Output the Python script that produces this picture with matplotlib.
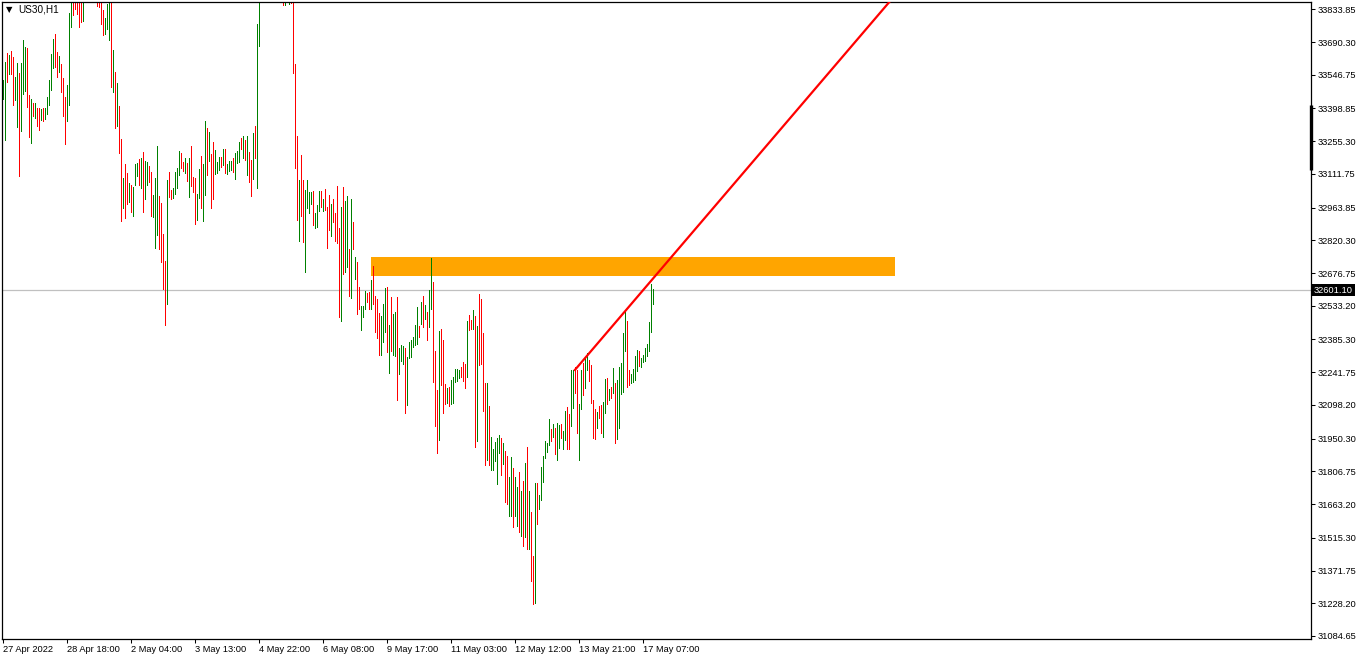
import matplotlib
matplotlib.use("Agg")
import matplotlib.pyplot as plt
import matplotlib.transforms as mtransforms
from matplotlib.patches import Rectangle

plt.rcParams['font.family'] = ['Liberation Sans', 'DejaVu Sans']

# ---------------- data ----------------
symbol_title = "US30,H1"

highs = [
    33524, 33603, 33642, 33633, 33651, 33625, 33537, 33598, 33554, 33598,
    33699, 33668, 33664, 33458, 33440, 33423, 33423, 33401, 33401, 33396,
    33401, 33401, 33449, 33524, 33638, 33703, 33725, 33646, 33629, 33594,
    33532, 33449, 33502, 33818, 33910, 33895, 33905, 33900, 33915, 33890,
    33900, 33990, 34030, 34050, 34020, 33990, 33960, 33930, 33925, 33920,
    33831, 33796, 33857, 33890, 33880, 33655, 33559, 33510, 33410, 33265,
    33094, 33155, 33116, 33072, 33063, 33054, 33155, 33160, 33177, 33181,
    33208, 33168, 33164, 33146, 33120, 33019, 33094, 33234, 33015, 32984,
    32848, 32730, 33085, 33120, 33041, 33050, 33120, 33138, 33212, 33203,
    33164, 33181, 33160, 33181, 33234, 33098, 33094, 33023, 33133, 33190,
    33155, 33344, 33313, 33295, 33199, 33252, 33217, 33164, 33186, 33186,
    33221, 33221, 33155, 33168, 33168, 33181, 33203, 33212, 33252, 33269,
    33278, 33260, 33278, 33208, 33173, 33291, 33322, 33769, 33900, 33980,
    34020, 34060, 34080, 34050, 34070, 34040, 34010, 33990, 33970, 33950,
    33930, 33920, 33950, 33915, 33900, 33905, 33594, 33278, 33085, 33195,
    33085, 33041, 33085, 33032, 33032, 33037, 32940, 32975, 33037, 33037,
    33002, 33045, 32966, 33019, 32980, 33002, 32940, 33059, 32874, 32966,
    33054, 32993, 33015, 32782, 33002, 32901, 32747, 32725, 32616, 32532,
    32532, 32598, 32589, 32594, 32646, 32708, 32576, 32563, 32501, 32488,
    32541, 32611, 32616, 32449, 32572, 32497, 32506, 32572, 32348, 32361,
    32357, 32348, 32308, 32374, 32383, 32396, 32449, 32528, 32444, 32550,
    32576, 32537, 32506, 32602, 32743, 32637, 32335, 32164, 32422, 32431,
    32383, 32190, 32172, 32177, 32208, 32221, 32256, 32256, 32251, 32265,
    32286, 32278, 32466, 32493, 32471, 32515, 32488, 32444, 32585, 32563,
    32414, 32194, 32194, 32093, 31957, 31905, 31935, 31953, 31966, 31953,
    31931, 31896, 31874, 31782, 31870, 31821, 31782, 31738, 31804, 31721,
    31764, 31843, 31914, 31721, 31628, 31435, 31756, 31756, 31703, 31826,
    31874, 31940, 31931, 32036, 31993, 32014, 31997, 32019, 32010, 32014,
    31984, 32072, 32089, 32058, 32251, 32251, 32265, 32251, 32102, 32251,
    32282, 32304, 32326, 32295, 32273, 32120, 32080, 32067, 32093, 32098,
    32111, 32212, 32216, 32168, 32177, 32260, 32194, 32208, 32265, 32282,
    32414, 32506, 32466, 32251, 32234, 32256, 32313, 32339, 32335, 32304,
    32317, 32348, 32365, 32462, 32629, 32607,
]

lows = [
    33440, 33260, 33515, 33550, 33550, 33414, 33436, 33318, 33103, 33300,
    33462, 33475, 33405, 33274, 33247, 33366, 33357, 33322, 33304, 33348,
    33344, 33352, 33374, 33414, 33480, 33576, 33581, 33537, 33559, 33471,
    33366, 33243, 33344, 33414, 33756, 33809, 33835, 33813, 33756, 33778,
    33783, 33880, 33910, 33950, 33930, 33900, 33880, 33848, 33844, 33769,
    33721, 33725, 33747, 33699, 33493, 33471, 33313, 33322, 33203, 32905,
    32962, 32918, 32980, 32988, 32945, 32927, 33063, 33103, 33063, 33050,
    32945, 33002, 33063, 33076, 32927, 32923, 32787, 32844, 32782, 32725,
    32607, 32449, 32541, 33010, 33002, 33006, 33023, 33050, 33107, 33138,
    33124, 33116, 33081, 33010, 33059, 33032, 32892, 32910, 33006, 32962,
    32905, 33019, 33107, 33168, 32962, 33002, 33111, 33116, 33129, 33142,
    33151, 33116, 33111, 33124, 33129, 33120, 33089, 33160, 33164, 33221,
    33181, 33173, 33107, 33076, 33015, 33089, 33181, 33050, 33673, 33870,
    33940, 33990, 34010, 33980, 34000, 33970, 33950, 33920, 33900, 33890,
    33853, 33853, 33880, 33857, 33861, 33554, 33138, 32910, 32817, 32927,
    32813, 32681, 32962, 32940, 32980, 32888, 32874, 32879, 32949, 32966,
    32949, 32953, 32787, 32866, 32839, 32901, 32817, 32809, 32484, 32466,
    32673, 32681, 32703, 32576, 32567, 32782, 32651, 32497, 32519, 32427,
    32484, 32519, 32550, 32519, 32519, 32541, 32418, 32392, 32317, 32317,
    32374, 32418, 32330, 32238, 32335, 32317, 32313, 32120, 32234, 32291,
    32278, 32063, 32098, 32304, 32308, 32352, 32361, 32365, 32396, 32453,
    32440, 32475, 32383, 32440, 32519, 32199, 32006, 31887, 31944, 32186,
    32063, 32102, 32107, 32093, 32102, 32107, 32199, 32203, 32216, 32221,
    32203, 32172, 32221, 32427, 32431, 32431, 31914, 31940, 32273, 32278,
    32072, 31835, 31857, 31835, 31813, 31813, 31852, 31751, 31887, 31791,
    31839, 31672, 31664, 31611, 31611, 31563, 31611, 31567, 31541, 31523,
    31479, 31519, 31466, 31466, 31326, 31225, 31229, 31576, 31642, 31681,
    31760, 31865, 31892, 31922, 31940, 31957, 31883, 31857, 31909, 31953,
    31905, 31944, 31905, 31905, 32006, 32085, 32150, 31975, 31857, 32080,
    32142, 32172, 32251, 32203, 32107, 31953, 31949, 31997, 32041, 31975,
    31957, 32063, 32102, 32120, 32129, 32150, 31931, 31949, 31997, 32146,
    32155, 32335, 32177, 32186, 32194, 32199, 32208, 32247, 32269, 32265,
    32286, 32291, 32313, 32335, 32418, 32541,
]

# G = bullish bar (green), R = bearish bar (red)
directions = (
    "GGRGRRGGRG" "GGRRGRGRRG" "RGGGGGRRGR" "RRGGGRRRRR" "GGGRRGRRRR"
    "RGGGRGRGRR" "GRRGRGGGRG" "RGGRRGGGRR" "RRGRRGGGGR" "RGRGRRRGGR"
    "GGRGRRGGGR" "GRGGGRGGGR" "GRGRRGRGGG" "GGRRGRRGRG" "RGGGRRRRGR"
    "RGGGGRGGGR" "GRRRGRRRRG" "RGGRGRGRRG" "GGRRGRRRRG" "GGRGRGGRGG"
    "GRGGGGGGRG" "RGRGGRRRGR" "RRGRGGGGGR" "RRGRRGRGRR" "RRGRGGGGGR"
    "GRRGGRGGRG" "RGRGRRGRGG" "GGGGRGRGGR" "GGRRGGRRGG" "RGGRRRRGRR"
    "GGRGRGRGGG" "GGRRGGGGRG" "GGGGGG"
)

price_ticks = [33833.85, 33690.30, 33546.75, 33398.85, 33255.30, 33111.75,
               32963.85, 32820.30, 32676.75, 32533.20, 32385.30, 32241.75,
               32098.20, 31950.30, 31806.75, 31663.20, 31515.30, 31371.75,
               31228.20, 31084.65]

time_tick_bars = [0, 32, 64, 96, 128, 160, 192, 224, 256, 288, 320]
time_tick_labels = ["27 Apr 2022", "28 Apr 18:00", "2 May 04:00", "3 May 13:00",
                    "4 May 22:00", "6 May 08:00", "9 May 17:00", "11 May 03:00",
                    "12 May 12:00", "13 May 21:00", "17 May 07:00"]

last_price = 32601.10

zone_bars = [184, 446]
zone_prices = [32664, 32747]

trend_bars = [285.6, 450.0]
trend_prices = [32248, 33936]

scale_marker_prices = [33414, 33129]

# ---------------- figure ----------------
W, H = 1362, 660
fig = plt.figure(figsize=(W / 100, H / 100), dpi=100)
fig.patch.set_facecolor('white')
ax = fig.add_axes([2 / W, 1 - 639 / H, (1311 - 2) / W, (639 - 2) / H])
ax.set_facecolor('white')
ax.set_xlim(-0.5, 654.0)
ax.set_ylim(31071.3, 33865.8)

n = min(len(highs), len(lows), len(directions))
idx = list(range(n))
cols = ['#008000' if directions[i] == 'G' else '#FF0000' for i in idx]

# support/resistance zone
ax.add_patch(Rectangle((zone_bars[0], zone_prices[0]),
                       zone_bars[1] - zone_bars[0], zone_prices[1] - zone_prices[0],
                       facecolor='#FFA500', edgecolor='none', zorder=1))

# current price line
ax.axhline(last_price, color='#C0C0C0', lw=0.9, zorder=0.8)

# OHLC bars (high-low)
ax.vlines(idx, lows[:n], highs[:n], colors=cols, linewidth=0.5,
          antialiased=False, zorder=2)

# trend line
ax.plot(trend_bars, trend_prices, color='#FF0000', lw=1.6, zorder=3,
        solid_capstyle='butt')

# axes styling
for s in ax.spines.values():
    s.set_color('black')
    s.set_linewidth(0.9)

ax.yaxis.tick_right()
ax.set_yticks(price_ticks)
ax.set_yticklabels([f"{v:.2f}" for v in price_ticks])
ax.tick_params(axis='y', which='both', direction='out', length=3, width=0.75,
               pad=1.5, labelsize=6.7, colors='black', left=False, right=True)

ax.set_xticks(time_tick_bars)
ax.set_xticklabels(time_tick_labels)
for lab in ax.get_xticklabels():
    lab.set_horizontalalignment('left')
ax.tick_params(axis='x', direction='out', length=3, width=0.75, pad=1.5,
               labelsize=6.7, colors='black')

# scale marker on the price axis
blend = mtransforms.blended_transform_factory(ax.transAxes, ax.transData)
ax.plot([1.0, 1.0], scale_marker_prices, transform=blend, color='black',
        lw=2.4, clip_on=False, solid_capstyle='butt', zorder=5)

# last price label
ax.text(1.0 + 3 / 1309, last_price, f"{last_price:.2f}", transform=blend,
        fontsize=6.7, color='white', va='center', ha='left', zorder=6,
        bbox=dict(boxstyle='square,pad=0.18', fc='black', ec='none'))

# title
fig.text(6 / W, 1 - 10 / H, "\u25BC", fontsize=6, color='black',
         va='center', ha='left', family='DejaVu Sans')
fig.text(18 / W, 1 - 10 / H, symbol_title, fontsize=7.2, color='black',
         va='center', ha='left')

fig.savefig("out.png", dpi=100, facecolor='white')
